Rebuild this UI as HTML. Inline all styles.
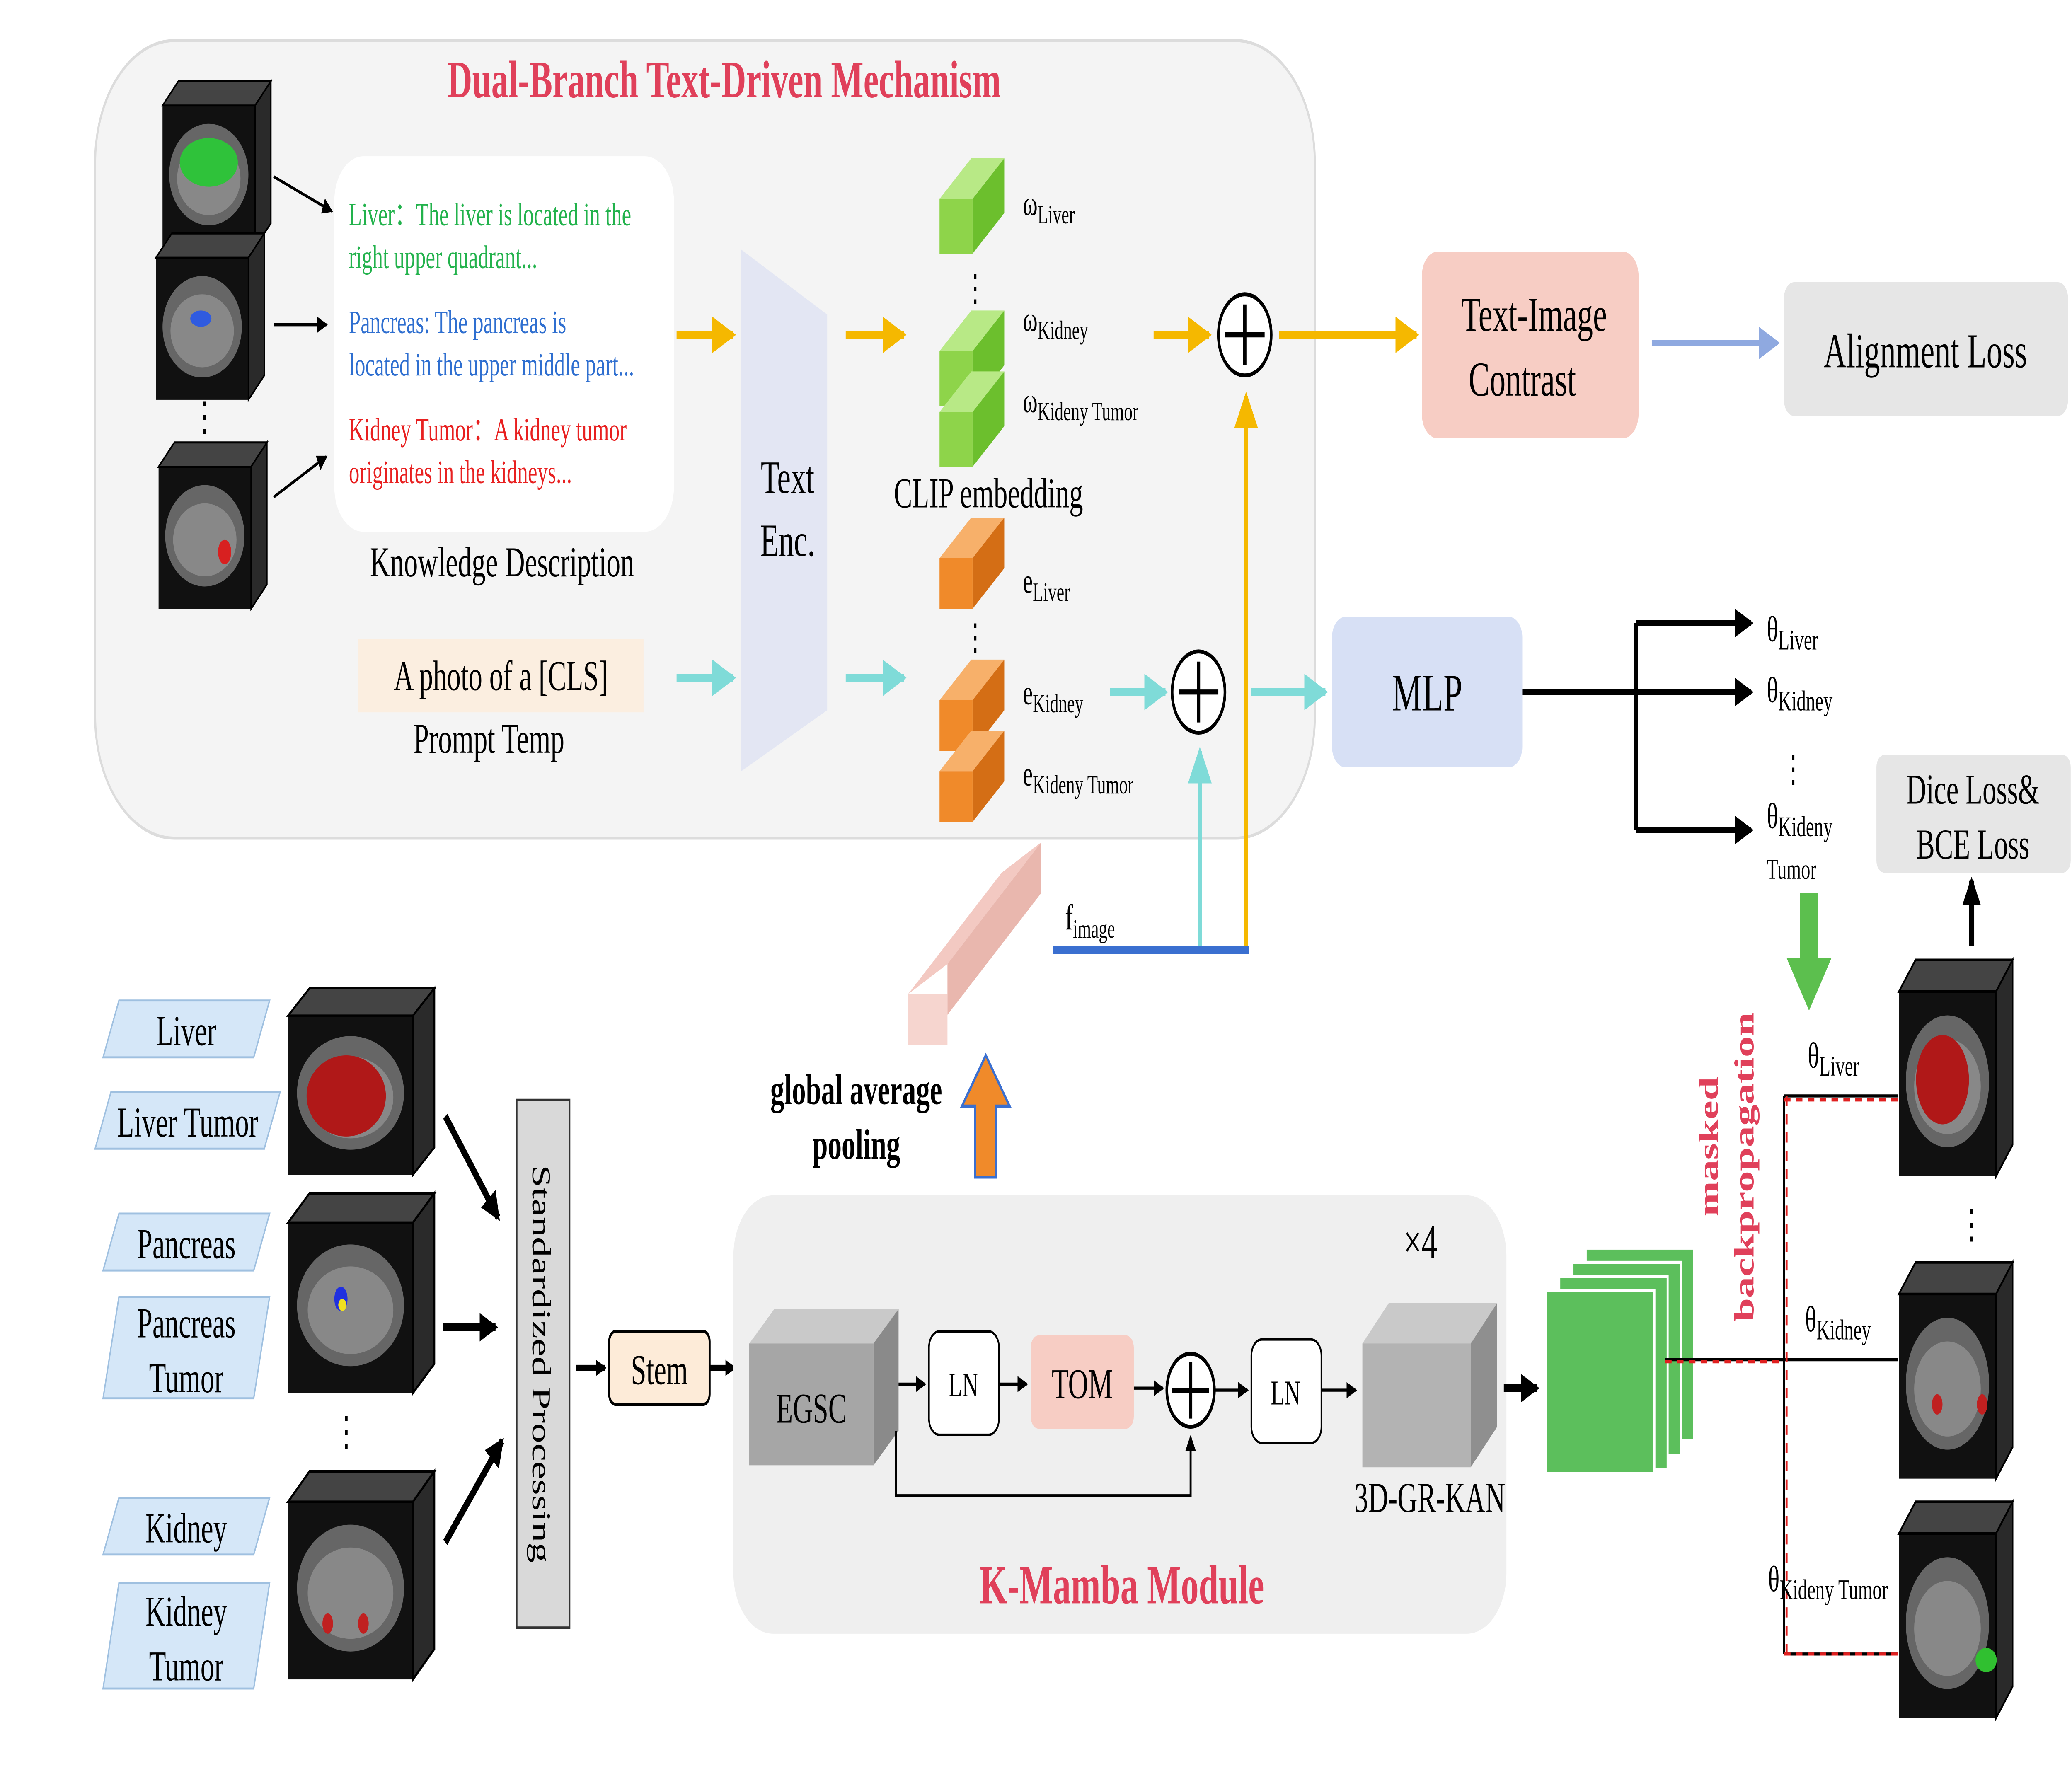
<!DOCTYPE html>
<html><head><meta charset="utf-8"><style>
html,body{margin:0;padding:0;background:#fff;width:100%;height:100%;overflow:hidden;}
svg{display:block;width:100vw;height:100vh;}
text{font-family:"Liberation Serif",serif;}
</style></head><body>
<svg viewBox="0 0 1568 882" preserveAspectRatio="none" xmlns="http://www.w3.org/2000/svg">
<defs>
<marker id="ak" markerWidth="8" markerHeight="8" refX="7" refY="4" orient="auto" markerUnits="userSpaceOnUse"><path d="M0,0 L8,4 L0,8 z" fill="#000"/></marker>
<marker id="akb" markerWidth="14" markerHeight="14" refX="12" refY="7" orient="auto" markerUnits="userSpaceOnUse"><path d="M0,0 L14,7 L0,14 z" fill="#000"/></marker>
<marker id="ay" markerWidth="18" markerHeight="18" refX="16" refY="9" orient="auto" markerUnits="userSpaceOnUse"><path d="M0,0 L18,9 L0,18 z" fill="#f5b800"/></marker>
<marker id="ac" markerWidth="18" markerHeight="18" refX="16" refY="9" orient="auto" markerUnits="userSpaceOnUse"><path d="M0,0 L18,9 L0,18 z" fill="#7fdbd8"/></marker>
<marker id="ab" markerWidth="16" markerHeight="16" refX="14" refY="8" orient="auto" markerUnits="userSpaceOnUse"><path d="M0,0 L16,8 L0,16 z" fill="#8fa9e0"/></marker>
<g id="ct">
<rect x="0" y="12" width="70" height="70" fill="#111"/>
<polygon points="0,12 12,0 82,0 70,12" fill="#444" stroke="#000" stroke-width="1"/>
<polygon points="70,12 82,0 82,70 70,82" fill="#2a2a2a" stroke="#000" stroke-width="1"/>
<ellipse cx="35" cy="46" rx="30" ry="25" fill="#666"/>
<ellipse cx="35" cy="48" rx="24" ry="18" fill="#888"/>
</g>
</defs>

<rect x="72" y="20" width="923" height="393" rx="60" fill="#f4f4f4" stroke="#dcdcdc" stroke-width="1.5"/>
<text x="548" y="48" font-size="26" font-weight="bold" fill="#e0405a" text-anchor="middle">Dual-Branch Text-Driven Mechanism</text>

<use href="#ct" transform="translate(123,40)"/>
<ellipse cx="158" cy="80" rx="22" ry="12" fill="#2fc23a"/>
<use href="#ct" transform="translate(118,115)"/>
<ellipse cx="152" cy="157" rx="8" ry="4" fill="#2f5be0"/>
<text x="155" y="212" font-size="20" text-anchor="middle">⋮</text>
<use href="#ct" transform="translate(120,218)"/>
<ellipse cx="170" cy="272" rx="5" ry="6" fill="#d82020"/>
<line x1="207" y1="87" x2="251" y2="104" stroke="#000" stroke-width="1.5" marker-end="url(#ak)"/>
<line x1="207" y1="160" x2="247" y2="160" stroke="#000" stroke-width="1.5" marker-end="url(#ak)"/>
<line x1="207" y1="245" x2="247" y2="225" stroke="#000" stroke-width="1.5" marker-end="url(#ak)"/>

<rect x="253" y="77" width="257" height="185" rx="22" fill="#fff"/>
<g font-size="16">
<text x="264" y="111" fill="#22b24c">Liver：The liver is located in the</text>
<text x="264" y="132" fill="#22b24c">right upper quadrant...</text>
<text x="264" y="164" fill="#2f6fd0">Pancreas: The pancreas is</text>
<text x="264" y="185" fill="#2f6fd0">located in the upper middle part...</text>
<text x="264" y="217" fill="#e82020">Kidney Tumor：A kidney tumor</text>
<text x="264" y="238" fill="#e82020">originates in the kidneys...</text>
</g>
<text x="380" y="284" font-size="21" text-anchor="middle">Knowledge Description</text>
<rect x="271" y="315" width="216" height="36" fill="#fbeee0"/>
<text x="379" y="340" font-size="21" text-anchor="middle">A photo of a [CLS]</text>
<text x="370" y="371" font-size="21" text-anchor="middle">Prompt Temp</text>

<polygon points="561,123 626,155 626,350 561,380" fill="#e3e6f3"/>
<text x="596" y="243" font-size="23" text-anchor="middle">Text</text>
<text x="596" y="274" font-size="23" text-anchor="middle">Enc.</text>

<line x1="512" y1="165" x2="555" y2="165" stroke="#f5b800" stroke-width="4" marker-end="url(#ay)"/>
<line x1="640" y1="165" x2="684" y2="165" stroke="#f5b800" stroke-width="4" marker-end="url(#ay)"/>
<line x1="512" y1="334" x2="555" y2="334" stroke="#7fdbd8" stroke-width="4" marker-end="url(#ac)"/>
<line x1="640" y1="334" x2="684" y2="334" stroke="#7fdbd8" stroke-width="4" marker-end="url(#ac)"/>

<g>
<polygon points="711,98 735,78 760,78 736,98" fill="#b8e986"/><rect x="711" y="98" width="25" height="27" fill="#8ed44a"/><polygon points="736,98 760,78 760,105 736,125" fill="#6cbf2d"/>
<polygon points="711,173 735,153 760,153 736,173" fill="#b8e986"/><rect x="711" y="173" width="25" height="27" fill="#8ed44a"/><polygon points="736,173 760,153 760,180 736,200" fill="#6cbf2d"/>
<polygon points="711,203 735,183 760,183 736,203" fill="#b8e986"/><rect x="711" y="203" width="25" height="27" fill="#8ed44a"/><polygon points="736,203 760,183 760,210 736,230" fill="#6cbf2d"/>
</g>
<text x="738" y="148" font-size="18" text-anchor="middle">⋮</text>
<g>
<polygon points="711,275 735,255 760,255 736,275" fill="#f7b06a"/><rect x="711" y="275" width="25" height="25" fill="#f08a2a"/><polygon points="736,275 760,255 760,280 736,300" fill="#d46e15"/>
<polygon points="711,345 735,325 760,325 736,345" fill="#f7b06a"/><rect x="711" y="345" width="25" height="25" fill="#f08a2a"/><polygon points="736,345 760,325 760,350 736,370" fill="#d46e15"/>
<polygon points="711,380 735,360 760,360 736,380" fill="#f7b06a"/><rect x="711" y="380" width="25" height="25" fill="#f08a2a"/><polygon points="736,380 760,360 760,385 736,405" fill="#d46e15"/>
</g>
<text x="738" y="320" font-size="18" text-anchor="middle">⋮</text>

<g font-size="17">
<text x="774" y="106">ω<tspan font-size="13" dy="4">Liver</tspan></text>
<text x="774" y="163">ω<tspan font-size="13" dy="4">Kidney</tspan></text>
<text x="774" y="203">ω<tspan font-size="13" dy="4">Kideny Tumor</tspan></text>
<text x="774" y="292">e<tspan font-size="13" dy="4">Liver</tspan></text>
<text x="774" y="347">e<tspan font-size="13" dy="4">Kidney</tspan></text>
<text x="774" y="387">e<tspan font-size="13" dy="4">Kideny Tumor</tspan></text>
</g>
<text x="748" y="250" font-size="21" text-anchor="middle">CLIP embedding</text>

<line x1="873" y1="165" x2="915" y2="165" stroke="#f5b800" stroke-width="4" marker-end="url(#ay)"/>
<circle cx="942" cy="165" r="20" fill="#fff" stroke="#000" stroke-width="2"/>
<path d="M942,150 V180 M927,165 H957" stroke="#000" stroke-width="2.5"/>
<line x1="968" y1="165" x2="1072" y2="165" stroke="#f5b800" stroke-width="4" marker-end="url(#ay)"/>
<line x1="943" y1="468" x2="943" y2="195" stroke="#f5b800" stroke-width="3" marker-end="url(#ay)"/>

<line x1="840" y1="341" x2="882" y2="341" stroke="#7fdbd8" stroke-width="4" marker-end="url(#ac)"/>
<circle cx="907" cy="341" r="20" fill="#fff" stroke="#000" stroke-width="2"/>
<path d="M907,326 V356 M892,341 H922" stroke="#000" stroke-width="2.5"/>
<line x1="947" y1="341" x2="1003" y2="341" stroke="#7fdbd8" stroke-width="4" marker-end="url(#ac)"/>
<line x1="908" y1="466" x2="908" y2="370" stroke="#7fdbd8" stroke-width="3" marker-end="url(#ac)"/>
<line x1="797" y1="468" x2="945" y2="468" stroke="#3a6fd0" stroke-width="4"/>
<text x="806" y="458" font-size="18">f<tspan font-size="13" dy="4">image</tspan></text>

<rect x="1076" y="124" width="164" height="92" rx="12" fill="#f7cdc4"/>
<text x="1161" y="163" font-size="24" text-anchor="middle">Text-Image</text>
<text x="1152" y="195" font-size="24" text-anchor="middle">Contrast</text>
<line x1="1250" y1="169" x2="1345" y2="169" stroke="#8fa9e0" stroke-width="3" marker-end="url(#ab)"/>
<rect x="1350" y="139" width="215" height="66" rx="8" fill="#e6e6e6"/>
<text x="1457" y="181" font-size="24" text-anchor="middle">Alignment Loss</text>

<rect x="1008" y="304" width="144" height="74" rx="10" fill="#d7e0f5"/>
<text x="1080" y="350" font-size="26" text-anchor="middle">MLP</text>
<path d="M1152,341 H1238 M1238,307 V409" stroke="#000" stroke-width="3" fill="none"/>
<line x1="1238" y1="307" x2="1325" y2="307" stroke="#000" stroke-width="3" marker-end="url(#akb)"/>
<line x1="1238" y1="341" x2="1325" y2="341" stroke="#000" stroke-width="3" marker-end="url(#akb)"/>
<line x1="1238" y1="409" x2="1325" y2="409" stroke="#000" stroke-width="3" marker-end="url(#akb)"/>
<g font-size="18">
<text x="1337" y="316">θ<tspan font-size="14" dy="4">Liver</tspan></text>
<text x="1337" y="346">θ<tspan font-size="14" dy="4">Kidney</tspan></text>
<text x="1357" y="385" text-anchor="middle">⋮</text>
<text x="1337" y="408">θ<tspan font-size="14" dy="4">Kideny</tspan></text>
<text x="1337" y="433" font-size="14">Tumor</text>
</g>
<rect x="1420" y="372" width="147" height="58" rx="6" fill="#e6e6e6"/>
<text x="1493" y="396" font-size="21" text-anchor="middle">Dice Loss&amp;</text>
<text x="1493" y="423" font-size="21" text-anchor="middle">BCE Loss</text>
<path d="M1362,440 H1376 V472 H1386 L1369,498 L1352,472 H1362 Z" fill="#5cbf4e"/>
<line x1="1492" y1="466" x2="1492" y2="434" stroke="#000" stroke-width="4" marker-end="url(#akb)"/>

<polygon points="687,490 758,430 788,415 717,475" fill="#f3c9c2"/>
<polygon points="717,475 788,415 788,440 717,500" fill="#e9b7ae"/>
<rect x="687" y="490" width="30" height="25" fill="#f6d5cf"/>
<path d="M738,580 V545 H728 L746,520 L764,545 H754 V580 Z" fill="#f08a2a" stroke="#3a6fd0" stroke-width="1.5"/>
<text x="648" y="544" font-size="21" font-weight="bold" text-anchor="middle">global average</text>
<text x="648" y="571" font-size="21" font-weight="bold" text-anchor="middle">pooling</text>

<g font-size="21" fill="#d5e7f8" stroke="#9fc0e0" stroke-width="1">
<polygon points="90,493 204,493 192,521 78,521"/>
<polygon points="84,538 212,538 200,566 72,566"/>
<polygon points="90,598 204,598 192,626 78,626"/>
<polygon points="90,639 204,639 192,689 78,689"/>
<polygon points="90,738 204,738 192,766 78,766"/>
<polygon points="90,780 204,780 192,832 78,832"/>
</g>
<g font-size="21" text-anchor="middle">
<text x="141" y="515">Liver</text>
<text x="142" y="560">Liver Tumor</text>
<text x="141" y="620">Pancreas</text>
<text x="141" y="659">Pancreas</text>
<text x="141" y="686">Tumor</text>
<text x="141" y="760">Kidney</text>
<text x="141" y="801">Kidney</text>
<text x="141" y="828">Tumor</text>
</g>
<g transform="translate(218,487) scale(1.35,1.12)"><use href="#ct"/></g>
<ellipse cx="262" cy="540" rx="30" ry="20" fill="#b01818"/>
<g transform="translate(218,588) scale(1.35,1.2)"><use href="#ct"/></g>
<ellipse cx="258" cy="640" rx="5" ry="6" fill="#2030e0"/><circle cx="259" cy="643" r="3" fill="#f0e020"/>
<text x="262" y="712" font-size="20" text-anchor="middle">⋮</text>
<g transform="translate(218,725) scale(1.35,1.25)"><use href="#ct"/></g>
<ellipse cx="248" cy="800" rx="4" ry="5" fill="#c02020"/><ellipse cx="275" cy="800" rx="4" ry="5" fill="#c02020"/>

<line x1="337" y1="550" x2="377" y2="600" stroke="#000" stroke-width="4" marker-end="url(#akb)"/>
<line x1="335" y1="654" x2="375" y2="654" stroke="#000" stroke-width="4" marker-end="url(#akb)"/>
<line x1="337" y1="760" x2="380" y2="710" stroke="#000" stroke-width="4" marker-end="url(#akb)"/>

<rect x="391" y="542" width="40" height="260" fill="#d9d9d9" stroke="#333" stroke-width="1.2"/>
<text transform="translate(403,672) rotate(90)" font-size="20" text-anchor="middle">Standardized Processing</text>
<line x1="436" y1="674" x2="458" y2="674" stroke="#000" stroke-width="3" marker-end="url(#ak)"/>
<rect x="461" y="656" width="76" height="36" rx="5" fill="#fdebd8" stroke="#000" stroke-width="1.5"/>
<text x="499" y="682" font-size="21" text-anchor="middle">Stem</text>
<line x1="537" y1="674" x2="556" y2="674" stroke="#000" stroke-width="3" marker-end="url(#ak)"/>

<rect x="555" y="589" width="585" height="216" rx="30" fill="#efefef"/>
<text x="849" y="790" font-size="27" font-weight="bold" fill="#e0405a" text-anchor="middle">K-Mamba Module</text>
<text x="1075" y="620" font-size="24" text-anchor="middle">×4</text>

<polygon points="567,662 586,645 680,645 661,662" fill="#c9c9c9"/>
<rect x="567" y="662" width="94" height="60" fill="#a6a6a6"/>
<polygon points="661,662 680,645 680,705 661,722" fill="#8a8a8a"/>
<text x="614" y="701" font-size="21" text-anchor="middle">EGSC</text>
<line x1="680" y1="682" x2="700" y2="682" stroke="#000" stroke-width="1.5" marker-end="url(#ak)"/>
<rect x="703" y="656" width="53" height="51" rx="8" fill="#fff" stroke="#000" stroke-width="1.2"/>
<text x="729" y="688" font-size="17" text-anchor="middle">LN</text>
<line x1="756" y1="682" x2="777" y2="682" stroke="#000" stroke-width="1.5" marker-end="url(#ak)"/>
<rect x="780" y="658" width="78" height="46" rx="6" fill="#f7cdc4"/>
<text x="819" y="689" font-size="21" text-anchor="middle">TOM</text>
<line x1="858" y1="684" x2="880" y2="684" stroke="#000" stroke-width="1.5" marker-end="url(#ak)"/>
<circle cx="901" cy="685" r="18" fill="#fff" stroke="#000" stroke-width="2"/>
<path d="M901,671 V699 M887,685 H915" stroke="#000" stroke-width="2.5"/>
<path d="M678,705 V737 H901 V708" stroke="#000" stroke-width="1.5" fill="none" marker-end="url(#ak)"/>
<line x1="919" y1="685" x2="944" y2="685" stroke="#000" stroke-width="1.5" marker-end="url(#ak)"/>
<rect x="947" y="660" width="53" height="51" rx="8" fill="#fff" stroke="#000" stroke-width="1.2"/>
<text x="973" y="692" font-size="17" text-anchor="middle">LN</text>
<line x1="1000" y1="685" x2="1026" y2="685" stroke="#000" stroke-width="1.5" marker-end="url(#ak)"/>
<polygon points="1031,662 1051,642 1133,642 1113,662" fill="#c9c9c9"/>
<rect x="1031" y="662" width="82" height="61" fill="#b3b3b3"/>
<polygon points="1113,662 1133,642 1133,703 1113,723" fill="#8f8f8f"/>
<text x="1082" y="745" font-size="21" text-anchor="middle">3D-GR-KAN</text>
<line x1="1138" y1="684" x2="1163" y2="684" stroke="#000" stroke-width="4" marker-end="url(#akb)"/>

<g stroke="#fff" stroke-width="1.5" fill="#5cbf5c">
<rect x="1200" y="615" width="82" height="95"/>
<rect x="1190" y="622" width="82" height="95"/>
<rect x="1180" y="629" width="82" height="95"/>
<rect x="1170" y="636" width="82" height="90"/>
</g>
<text transform="translate(1300,565) rotate(-90)" font-size="21" font-weight="bold" fill="#e0405a" text-anchor="middle">masked</text>
<text transform="translate(1327,575) rotate(-90)" font-size="21" font-weight="bold" fill="#e0405a" text-anchor="middle">backpropagation</text>

<g stroke="#000" stroke-width="1.5" fill="none">
<path d="M1260,670 H1350 M1350,540 V815 M1350,540 H1436 M1350,670 H1436 M1350,815 H1436"/>
</g>
<g stroke="#e02020" stroke-width="1.5" fill="none" stroke-dasharray="5,4">
<path d="M1260,671 H1350 M1352,540 V815 M1350,542 H1436 M1350,815 H1436"/>
</g>
<g font-size="18">
<text x="1368" y="526">θ<tspan font-size="14" dy="4">Liver</tspan></text>
<text x="1366" y="656">θ<tspan font-size="14" dy="4">Kidney</tspan></text>
<text x="1338" y="784">θ<tspan font-size="14" dy="4">Kideny Tumor</tspan></text>
</g>
<g transform="translate(1437,473) scale(1.05,1.3)"><use href="#ct"/></g>
<ellipse cx="1470" cy="532" rx="20" ry="22" fill="#b01818"/>
<text x="1492" y="610" font-size="20" text-anchor="middle">⋮</text>
<g transform="translate(1437,622) scale(1.05,1.3)"><use href="#ct"/></g>
<ellipse cx="1466" cy="692" rx="4" ry="5" fill="#c02020"/><ellipse cx="1500" cy="692" rx="4" ry="5" fill="#c02020"/>
<g transform="translate(1437,740) scale(1.05,1.3)"><use href="#ct"/></g>
<ellipse cx="1503" cy="818" rx="8" ry="6" fill="#30c030"/>
</svg>
</body></html>
